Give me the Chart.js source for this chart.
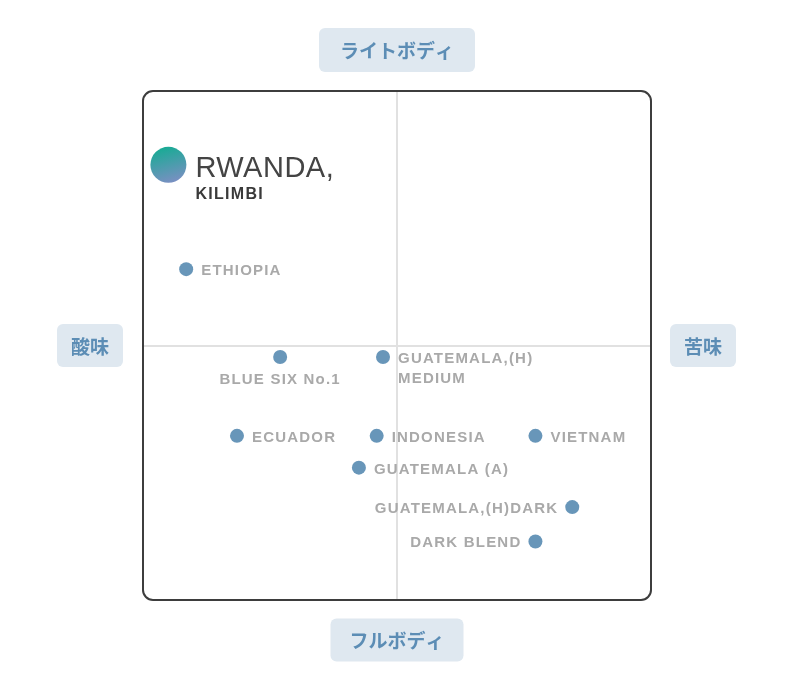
<!DOCTYPE html>
<html>
<head>
<meta charset="utf-8">
<script src="https://cdn.jsdelivr.net/npm/chart.js@4"></script>
<style>
  html, body { margin: 0; padding: 0; background: #fff; }
  #wrap { width: 800px; height: 692px; }
</style>
</head>
<body>
<div id="wrap"><canvas id="map" width="800" height="692"></canvas></div>
<script>
// Coffee taste map: x = acidity (-) to bitterness (+), y = full body (-) to light body (+)
const beanNames = [
    ['RWANDA,', 'KILIMBI'],
    ['ETHIOPIA'],
    ['BLUE SIX No.1'],
    ['GUATEMALA,(H)', 'MEDIUM'],
    ['ECUADOR'],
    ['INDONESIA'],
    ['VIETNAM'],
    ['GUATEMALA (A)'],
    ['GUATEMALA,(H)DARK'],
    ['DARK BLEND']
];
const bitterScores = [-9.0, -8.3, -4.6, -0.55, -6.3, -0.8, 5.45, -1.5, 6.9, 5.45];
const lightScores = [7.1, 3.0, -0.45, -0.45, -3.55, -3.55, -3.55, -4.8, -6.35, -7.7];
const axisRange = [-10, 10];
const axisTop = 'ライトボディ';
const axisBottom = 'フルボディ';
const axisLeft = '酸味';
const axisRight = '苦味';

const featuredIndex = 0;

// Where each label sits relative to its dot (default: right)
const labelSide = {
    'BLUE SIX No.1': 'below',
    'GUATEMALA,(H)DARK': 'left',
    'DARK BLEND': 'left'
};

function roundRect(ctx, x, y, w, h, r) {
    ctx.beginPath();
    ctx.moveTo(x + r, y);
    ctx.arcTo(x + w, y, x + w, y + h, r);
    ctx.arcTo(x + w, y + h, x, y + h, r);
    ctx.arcTo(x, y + h, x, y, r);
    ctx.arcTo(x, y, x + w, y, r);
    ctx.closePath();
}

function drawPill(ctx, text, cx, cy, w, h) {
    ctx.save();
    ctx.fillStyle = '#dfe8f0';
    roundRect(ctx, cx - w / 2, cy - h / 2, w, h, 6);
    ctx.fill();
    ctx.fillStyle = '#5c8db5';
    ctx.font = 'bold 19px "Noto Sans CJK JP", sans-serif';
    ctx.textAlign = 'center';
    ctx.textBaseline = 'middle';
    ctx.fillText(text, cx, cy + 1);
    ctx.restore();
}

const frameAndLabels = {
    id: 'frameAndLabels',
    afterDatasetsDraw(chart) {
        const ctx = chart.ctx;
        const a = chart.chartArea;
        // rounded frame
        ctx.save();
        ctx.strokeStyle = '#3d3d3d';
        ctx.lineWidth = 2;
        roundRect(ctx, a.left, a.top, a.right - a.left, a.bottom - a.top, 10);
        ctx.stroke();
        ctx.restore();

        // axis pills
        const cx = (a.left + a.right) / 2;
        const cy = (a.top + a.bottom) / 2;
        drawPill(ctx, axisTop, cx, 50, 156, 44);
        drawPill(ctx, axisBottom, cx, 640, 133, 43);
        drawPill(ctx, axisLeft, 90, cy, 66, 43);
        drawPill(ctx, axisRight, 703, cy, 66, 43);

        // point labels
        const meta = chart.getDatasetMeta(0);
        meta.data.forEach((pt, i) => {
            const lines = beanNames[i];
            const px = pt.x, py = pt.y;
            ctx.save();
            if (i === featuredIndex) {
                ctx.fillStyle = '#444';
                ctx.textAlign = 'left';
                ctx.textBaseline = 'alphabetic';
                ctx.font = '29px "Liberation Sans", Arial, sans-serif';
                ctx.letterSpacing = '0.5px';
                ctx.fillText(lines[0], px + 27, py + 12);
                ctx.font = 'bold 16px "Liberation Sans", Arial, sans-serif';
                ctx.letterSpacing = '1.3px';
                ctx.fillStyle = '#3a3a3a';
                ctx.fillText(lines[1], px + 27, py + 34);
                ctx.restore();
                return;
            }
            ctx.fillStyle = '#a9a9a9';
            ctx.font = 'bold 15px "Liberation Sans", Arial, sans-serif';
            ctx.letterSpacing = '1.2px';
            ctx.textBaseline = 'alphabetic';
            const side = labelSide[lines.join(' ')] || 'right';
            if (side === 'below') {
                ctx.textAlign = 'center';
                lines.forEach((t, k) => ctx.fillText(t, px, py + 27 + k * 20));
            } else if (side === 'left') {
                ctx.textAlign = 'right';
                lines.forEach((t, k) => ctx.fillText(t, px - 14, py + 6 + k * 20));
            } else {
                ctx.textAlign = 'left';
                lines.forEach((t, k) => ctx.fillText(t, px + 15, py + 6 + k * 20));
            }
            ctx.restore();
        });
    }
};

const points = bitterScores.map((x, i) => ({ x: x, y: lightScores[i] }));

const centerGrid = {
    drawTicks: false,
    lineWidth: 2,
    color: c => (c.tick && c.tick.value === 0 ? '#e1e1e1' : 'rgba(0,0,0,0)')
};

new Chart(document.getElementById('map'), {
    type: 'scatter',
    data: {
        datasets: [{
            data: points,
            pointRadius: c => (c.dataIndex === featuredIndex ? 18 : 7),
            pointBorderWidth: 0,
            backgroundColor: c => {
                if (c.dataIndex !== featuredIndex || !c.chart.scales.y) return '#6896b9';
                const px = c.chart.scales.x.getPixelForValue(bitterScores[featuredIndex]);
                const py = c.chart.scales.y.getPixelForValue(lightScores[featuredIndex]);
                if (!isFinite(py) || !isFinite(px)) return '#4fa3a8';
                const g = c.chart.ctx.createLinearGradient(px - 5, py - 18, px + 5, py + 18);
                g.addColorStop(0, '#17ab94');
                g.addColorStop(1, '#7b8fc3');
                return g;
            }
        }]
    },
    options: {
        responsive: false,
        animation: false,
        events: [],
        layout: { padding: { left: 143, right: 149, top: 91, bottom: 92 } },
        plugins: { legend: { display: false }, tooltip: { enabled: false } },
        scales: {
            x: {
                min: axisRange[0], max: axisRange[1],
                ticks: { display: false, stepSize: 10 },
                border: { display: false },
                grid: centerGrid
            },
            y: {
                min: axisRange[0], max: axisRange[1],
                ticks: { display: false, stepSize: 10 },
                border: { display: false },
                grid: centerGrid
            }
        }
    },
    plugins: [frameAndLabels]
});
</script>
</body>
</html>
